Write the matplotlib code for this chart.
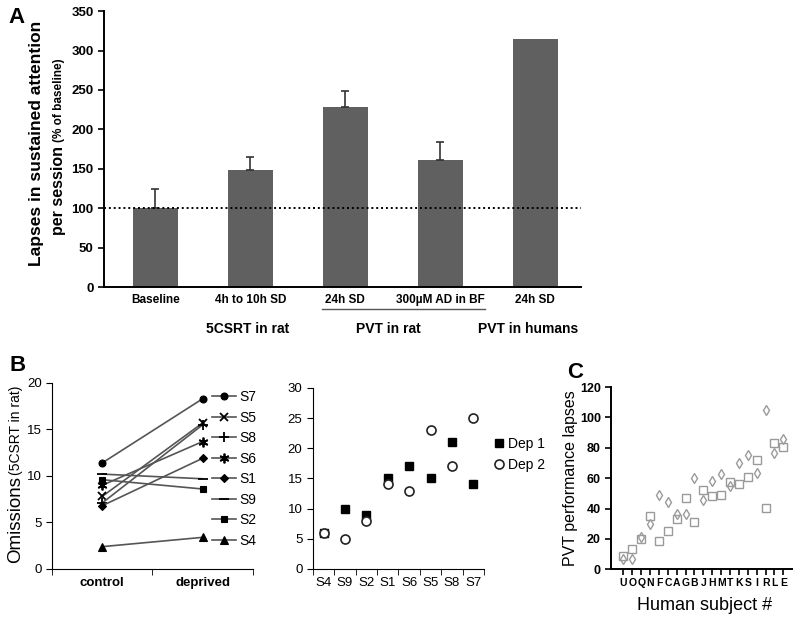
import numpy as np
import matplotlib.pyplot as plt
from matplotlib.transforms import blended_transform_factory

plt.rcParams['font.family'] = ['Liberation Sans', 'DejaVu Sans']

# --- Panel A: lapses (% of baseline)
a_labels = ["Baseline", "4h to 10h SD", "24h SD", "300\u00b5M AD in BF", "24h SD"]
a_values = [100, 148, 228, 161, 314]
a_err = [25, 17, 21, 23, 0]
a_groups = ["5CSRT in rat", "PVT in rat", "PVT in humans"]

# --- Panel B left: omissions control vs deprived
b_subjects = ["S7", "S5", "S8", "S6", "S1", "S9", "S2", "S4"]
b_control = [11.4, 7.8, 7.1, 9.0, 6.8, 10.2, 9.6, 2.4]
b_deprived = [18.3, 15.7, 15.5, 13.7, 11.9, 9.7, 8.6, 3.4]
b_conditions = ["control", "deprived"]

# --- Panel B right: PVT in rat
b2_subjects = ["S4", "S9", "S2", "S1", "S6", "S5", "S8", "S7"]
b2_dep1 = [6, 10, 9, 15, 17, 15, 21, 14]
b2_dep2 = [6, 5, 8, 14, 13, 23, 17, 25]

# --- Panel C: human PVT lapses
c_subjects = list("UOQNFCAGBJHMTKSIRLE")
c_squares = [9.0, 13.2, 19.8, 35, 18.9, 25.3, 33.4, 46.6, 31.4, 52.5,
             48.4, 49, 57.4, 56.3, 60.7, 71.9, 40.2, 83, 80.2]
c_diamonds = [6.6, 6.6, 21.5, 30, 48.8, 44.2, 36.5, 36.3, 60, 45.3,
              58.2, 63, 55, 70, 75.2, 63.7, 104.8, 76.5, 85.7]

fig = plt.figure(figsize=(8, 6.2), dpi=100)

# ================= A =================
axA = fig.add_axes([0.13, 0.5366, 0.596, 0.4456])
x = np.arange(len(a_values))
axA.bar(x, a_values, width=0.47, color='#606060', zorder=2)
for xi, v, e in zip(x, a_values, a_err):
    if e > 0:
        axA.errorbar(xi, v, yerr=[[0], [e]], fmt='none', ecolor='#333333',
                     elinewidth=1.2, capsize=3, capthick=1.2, zorder=3)
axA.axhline(101, color='black', linestyle=(0, (1, 1.5)), linewidth=1.4, zorder=4)
axA.set_xlim(-0.54, 4.48)
axA.set_ylim(0, 350)
axA.set_yticks(np.arange(0, 351, 50))
axA.set_xticks(x)
axA.set_xticklabels(a_labels, fontsize=8.5, fontweight='bold')
for lab in axA.get_yticklabels():
    lab.set_fontweight('bold')
    lab.set_fontsize(9.5)
axA.tick_params(axis='x', length=0, pad=5)
axA.tick_params(axis='y', direction='out', length=4, width=1.2)
for s in ['top', 'right']:
    axA.spines[s].set_visible(False)
for s in ['left', 'bottom']:
    axA.spines[s].set_linewidth(1.4)

trA = blended_transform_factory(axA.transData, axA.transAxes)
axA.plot([1.758, 3.47], [-0.079, -0.079], color='#555555', lw=1,
         transform=trA, clip_on=False)
for gx, g in zip([0.97, 2.45, 3.93], a_groups):
    axA.text(gx, -0.151, g, transform=trA, ha='center', va='center',
             fontsize=10, fontweight='bold')

fig.text(0.046, 0.768, "Lapses in sustained attention", rotation=90,
         ha='center', va='center', fontsize=12.5, fontweight='bold')
t2 = fig.text(0.0725, 1 - 235 / 620, "per session", rotation=90,
              ha='center', va='bottom', fontsize=11.5, fontweight='bold')
fig.canvas.draw()
bb = t2.get_window_extent()
top_frac = fig.transFigure.inverted().transform((0, bb.y1))[1]
fig.text(0.0735, top_frac + 4 / 620, "(% of baseline)", rotation=90,
         ha='center', va='bottom', fontsize=8.5, fontweight='bold')
fig.text(0.021, 0.971, "A", fontsize=16, fontweight='bold', ha='center', va='center')

# ================= B left =================
axB = fig.add_axes([0.065, 0.0823, 0.251, 0.30])
markers = ['o', 'x', '+', (6, 2, 0), 'D', '_', 's', '^']
msizes = [5, 6, 7, 7, 4.5, 7, 5, 5.5]
for name, c, d, m, ms in zip(b_subjects, b_control, b_deprived, markers, msizes):
    axB.plot([0, 1], [c, d], color='#555555', lw=1.2, marker=m, ms=ms,
             mfc='black', mec='black',
             mew=1.3 if m in ['x', '+', '_', (6, 2, 0)] else 0.8,
             label=name)
axB.set_xlim(-0.5, 1.5)
axB.set_ylim(0, 20)
axB.set_yticks([0, 5, 10, 15, 20])
axB.set_xticks([0, 1])
axB.set_xticklabels(b_conditions, fontsize=9.5, fontweight='bold')
axB.set_xticks([-0.5, 0.5, 1.5], minor=True)
axB.tick_params(axis='x', which='major', length=0, pad=6)
axB.tick_params(axis='x', which='minor', length=4, direction='out')
axB.tick_params(axis='y', direction='out', length=4, labelsize=9.5)
for s in ['top', 'right']:
    axB.spines[s].set_visible(False)
axB.legend(loc='upper left', bbox_to_anchor=(212 / 800, 1 - 390 / 620),
           bbox_transform=fig.transFigure, frameon=False, fontsize=10,
           handlelength=1.7, handletextpad=0.3, labelspacing=0.47,
           borderaxespad=0, borderpad=0)

fig.text(0.019, 0.092, "Omissions", rotation=90, ha='center', va='bottom', fontsize=13.5)
fig.text(0.0195, 0.092 + 88 / 620, "(5CSRT in rat)", rotation=90, ha='center',
         va='bottom', fontsize=10)
fig.text(0.0225, 0.411, "B", fontsize=16, fontweight='bold', ha='center', va='center')

# ================= B right =================
axB2 = fig.add_axes([0.391, 0.0823, 0.214, 0.292])
xs = np.arange(len(b2_subjects))
axB2.plot(xs, b2_dep1, linestyle='none', marker='s', ms=6, mfc='black',
          mec='black', label='Dep 1')
axB2.plot(xs, b2_dep2, linestyle='none', marker='o', ms=6.5, mfc='white',
          mec='#222222', mew=1.2, label='Dep 2')
axB2.set_xlim(-0.5, len(b2_subjects) - 0.5)
axB2.set_ylim(0, 30)
axB2.set_yticks(np.arange(0, 31, 5))
axB2.set_xticks(xs)
axB2.set_xticklabels(b2_subjects, fontsize=9.5)
axB2.set_xticks(np.arange(-0.5, len(b2_subjects)), minor=True)
axB2.tick_params(axis='x', which='major', length=0, pad=6)
axB2.tick_params(axis='x', which='minor', length=4, direction='out')
axB2.tick_params(axis='y', direction='out', length=4, labelsize=9.5)
for s in ['top', 'right']:
    axB2.spines[s].set_visible(False)
axB2.legend(loc='upper left', bbox_to_anchor=(493 / 800, 1 - 437 / 620),
            bbox_transform=fig.transFigure, frameon=False, fontsize=10,
            handlelength=0.8, handletextpad=0.3, labelspacing=0.5,
            borderaxespad=0, borderpad=0, numpoints=1)

# ================= C =================
axC = fig.add_axes([0.764, 0.0818, 0.226, 0.294])
xc = np.arange(len(c_subjects))
axC.plot(xc, c_squares, linestyle='none', marker='s', ms=5.5, mfc='none',
         mec='#9a9a9a', mew=1.0)
axC.plot(xc, c_diamonds, linestyle='none', marker='d', ms=5, mfc='none',
         mec='#9a9a9a', mew=1.0)
axC.set_xlim(-1.38, 18.98)
axC.set_ylim(0, 120)
axC.set_yticks(np.arange(0, 121, 20))
axC.set_xticks(xc)
axC.set_xticklabels(c_subjects, fontsize=7.5, fontweight='bold')
axC.tick_params(axis='x', direction='out', length=4, width=1.2, pad=2)
axC.tick_params(axis='y', direction='out', length=4, width=1.2, labelsize=9)
for lab in axC.get_yticklabels():
    lab.set_fontweight('bold')
for s in ['top', 'right']:
    axC.spines[s].set_visible(False)
for s in ['left', 'bottom']:
    axC.spines[s].set_linewidth(1.4)
fig.text(0.7125, 0.229, "PVT performance lapses", rotation=90, ha='center',
         va='center', fontsize=11.5)
fig.text(0.881, 0.0226, "Human subject #", ha='center', va='center', fontsize=13)
fig.text(0.719, 0.4, "C", fontsize=16, fontweight='bold', ha='center', va='center')

fig.savefig("out.png", dpi=100)
